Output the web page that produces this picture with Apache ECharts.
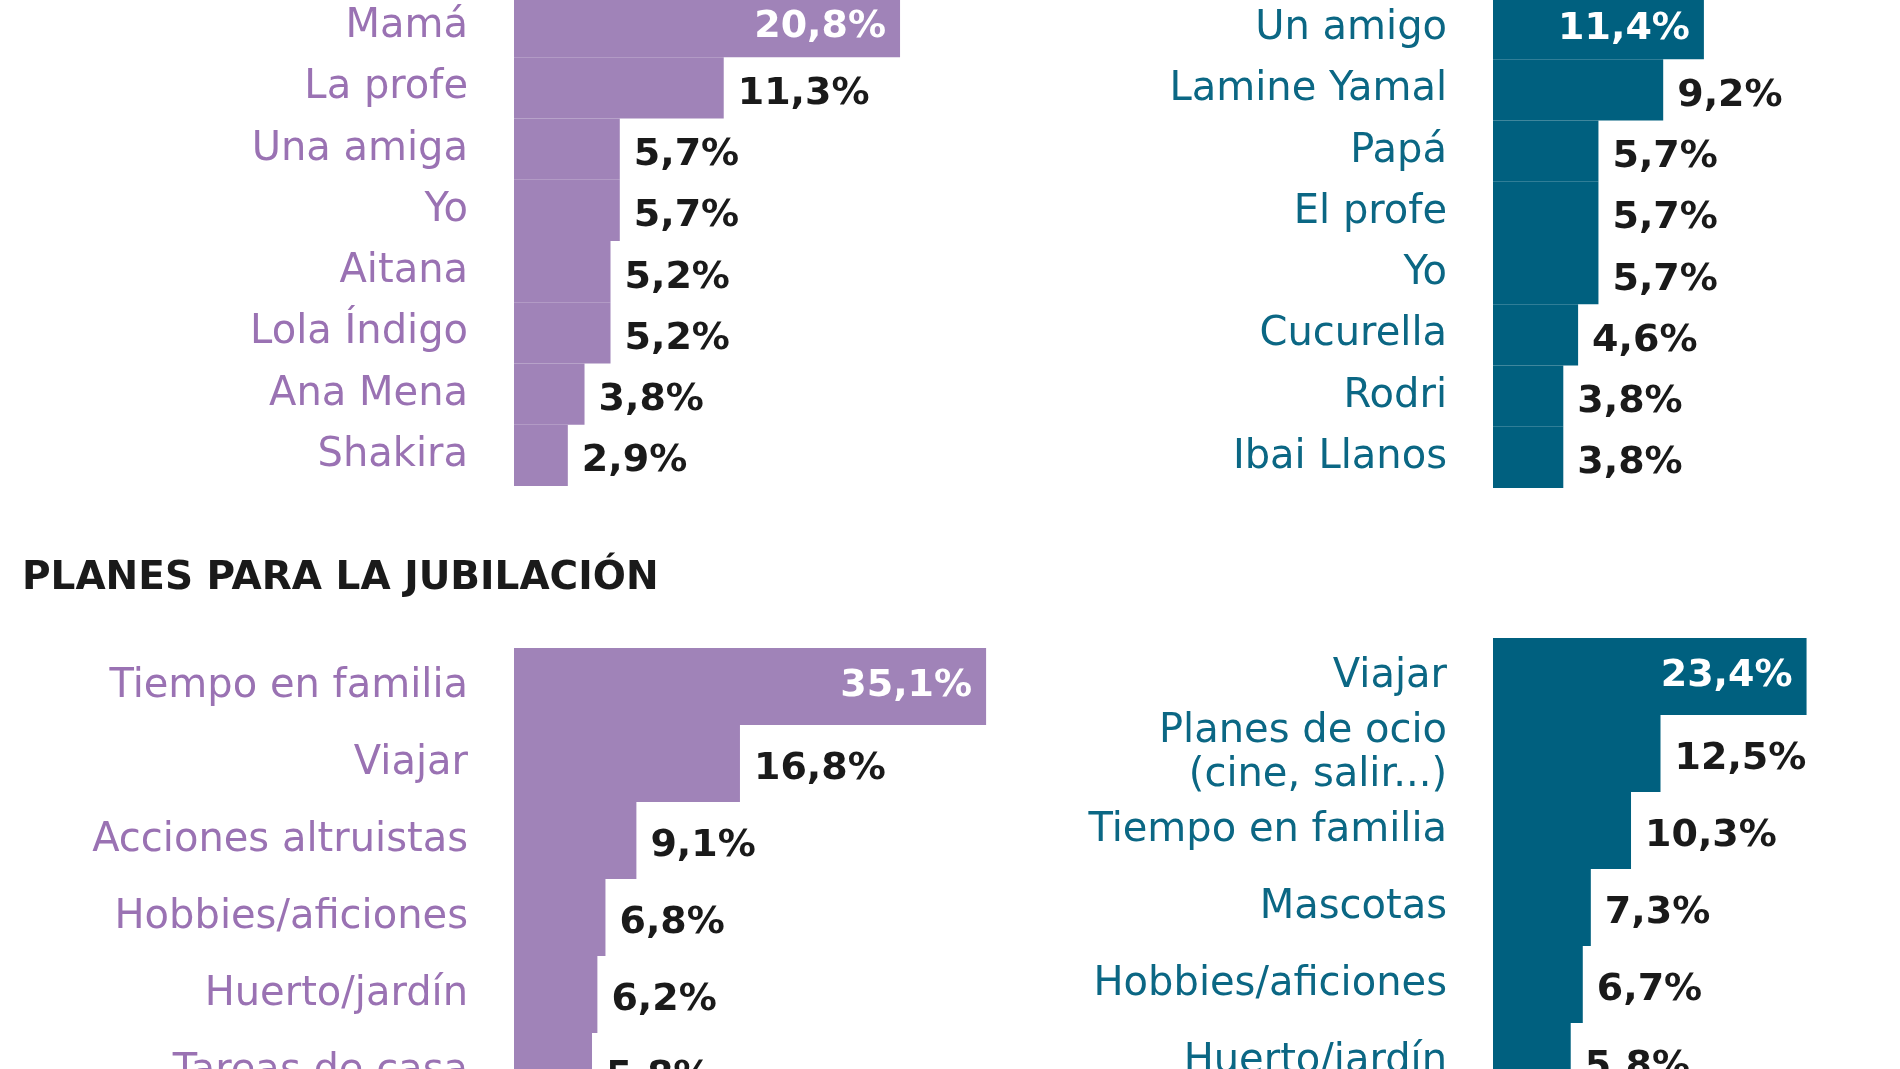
<!DOCTYPE html>
<html><head><meta charset="utf-8">
<script src="https://cdn.jsdelivr.net/npm/echarts@6/dist/echarts.min.js"></script>
<style>html,body{margin:0;background:#fff}#c{width:1900px;height:1069px}</style>
</head><body><div id="c"></div>
<script>
const catTL = ["Mamá","La profe","Una amiga","Yo","Aitana","Lola Índigo","Ana Mena","Shakira"];
const valTL = [20.8,11.3,5.7,5.7,5.2,5.2,3.8,2.9];
const catTR = ["Un amigo","Lamine Yamal","Papá","El profe","Yo","Cucurella","Rodri","Ibai Llanos"];
const valTR = [11.4,9.2,5.7,5.7,5.7,4.6,3.8,3.8];
const catBL = ["Tiempo en familia","Viajar","Acciones altruistas","Hobbies/aficiones","Huerto/jardín","Tareas de casa"];
const valBL = [35.1,16.8,9.1,6.8,6.2,5.8];
const catBR = ["Viajar","Planes de ocio\n(cine, salir...)","Tiempo en familia","Mascotas","Hobbies/aficiones","Huerto/jardín"];
const valBR = [23.4,12.5,10.3,7.3,6.7,5.8];
const title = "PLANES PARA LA JUBILACIÓN";

const PURPLE="#a083b8", PTXT="#9a72b3", TEAL="#00607f", TTXT="#0b6784";
const FONT="DejaVu Sans";
const panels=[
 {cat:catTL,val:valTL,left:514,top:-4,h:490,max:30,scale:18.56,bar:PURPLE,txt:PTXT},
 {cat:catTR,val:valTR,left:1493,top:-2,h:490,max:20,scale:18.5,bar:TEAL,txt:TTXT},
 {cat:catBL,val:valBL,left:514,top:648,h:462,max:40,scale:13.45,bar:PURPLE,txt:PTXT},
 {cat:catBR,val:valBR,left:1493,top:638,h:462,max:28,scale:13.4,bar:TEAL,txt:TTXT}
];
const fmt=v=>v.toFixed(1).replace('.',',')+'%';
const opt={animation:false,grid:[],xAxis:[],yAxis:[],series:[],
 title:{text:title,left:17,top:554,textStyle:{fontFamily:FONT,fontSize:39,fontWeight:'bold',color:'#1a1a1a'}}};
panels.forEach((p,i)=>{
 opt.grid.push({left:p.left,top:p.top,width:p.max*p.scale,height:p.h,outerBoundsMode:'none',containLabel:false});
 opt.xAxis.push({gridIndex:i,type:'value',min:0,max:p.max,show:false});
 opt.yAxis.push({gridIndex:i,type:'category',inverse:true,data:p.cat,axisLine:{show:false},axisTick:{show:false},
   axisLabel:{margin:46,fontFamily:FONT,fontSize:40,color:p.txt,lineHeight:44}});
 opt.series.push({type:'bar',xAxisIndex:i,yAxisIndex:i,barCategoryGap:'0%',itemStyle:{color:p.bar},
   data:p.val.map((v,j)=>j===0?{value:v,label:{position:'insideRight',color:'#fff',offset:[0,0]}}:v),
   label:{show:true,position:'right',distance:14,offset:[0,6],formatter:o=>fmt(o.value),fontFamily:FONT,fontSize:38,fontWeight:'bold',color:'#1a1a1a'}});
});
echarts.init(document.getElementById('c')).setOption(opt);
</script></body></html>
